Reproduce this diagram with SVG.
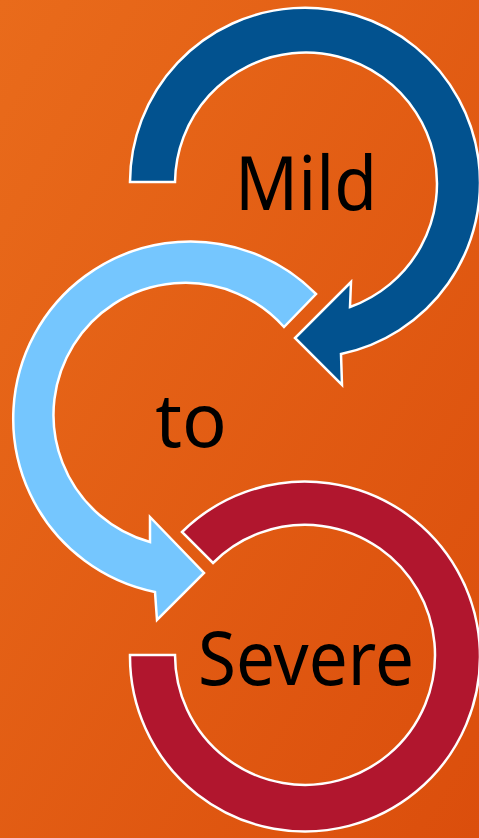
<svg xmlns="http://www.w3.org/2000/svg" width="479" height="838" viewBox="0 0 479 838">
  <defs>
    <linearGradient id="bg" x1="0" y1="0" x2="1" y2="1">
      <stop offset="0" stop-color="#E96B1B"/>
      <stop offset="1" stop-color="#DB4E0C"/>
    </linearGradient>
  </defs>
  <style>
    .arc { stroke: #FFFFFF; stroke-width: 2.5; stroke-linejoin: miter; }
    .lbl { font-family: "Noto Sans", "Open Sans", "DejaVu Sans", sans-serif; font-size: 74px; fill: #000000; text-anchor: middle; }
  </style>
  <rect x="0" y="0" width="479" height="838" fill="url(#bg)"/>
  <g id="connectors">
    <path id="arrow-mild" class="arc" fill="#02528F" d="M 130,182 A 175 175 0 1 1 341,354 L 342,385 L 295,338 L 351,282 L 350,307 A 131 131 0 1 0 175,182 Z"/>
    <path id="arrow-to" class="arc" fill="#75C6FE" d="M 316,294 A 177 177 0 1 0 155,592 L 157,620 L 204,573 L 150,517 L 150,542 A 132 132 0 1 1 284,327 Z"/>
    <path id="arc-severe" class="arc" fill="#B1162E" d="M 182,532 A 175 175 0 1 1 130,655 L 175,655 A 130 130 0 1 0 213,563 Z"/>
  </g>
  <g id="node-mild">
    <text class="lbl" x="306" y="210" textLength="142" lengthAdjust="spacingAndGlyphs">Mild</text>
  </g>
  <g id="node-to">
    <text class="lbl" x="191" y="447">to</text>
  </g>
  <g id="node-severe">
    <text class="lbl" x="306" y="685" textLength="216" lengthAdjust="spacingAndGlyphs">Severe</text>
  </g>
</svg>
